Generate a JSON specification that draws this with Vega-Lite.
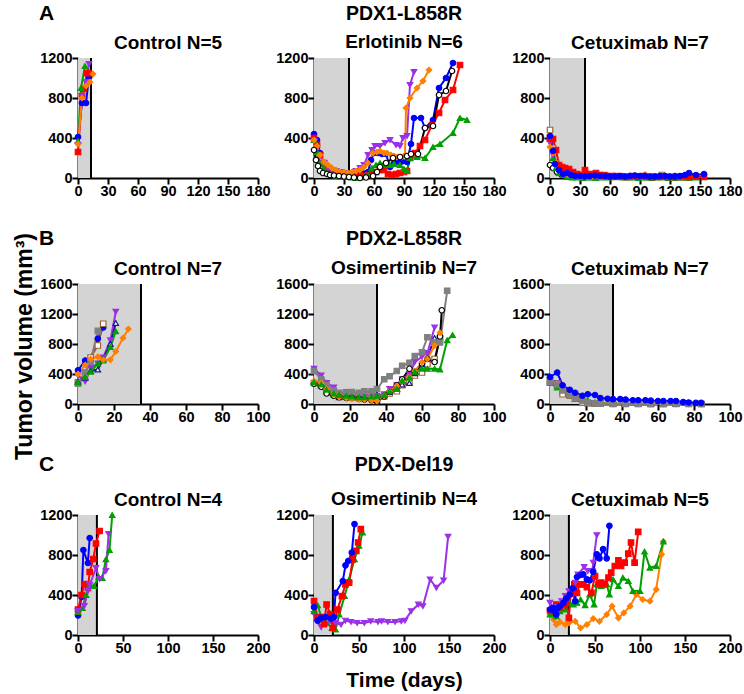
{
"$schema":"https://vega.github.io/schema/vega-lite/v6.json",
"padding":{"left":13,"top":2,"right":0,"bottom":0},
"title":{"text":"Tumor volume (mm³)","orient":"left","anchor":"middle","fontSize":23,"offset":2},
"spacing":29,
"resolve":{"scale":{"x":"independent","y":"independent"}},
"datasets":{
"A1":[
{"id":"blue","day":0,"vol":410},{"id":"blue","day":4,"vol":750},{"id":"blue","day":8,"vol":750},{"id":"blue","day":11,"vol":1010},
{"id":"red","day":0,"vol":260},{"id":"red","day":4,"vol":820},{"id":"red","day":6,"vol":890},{"id":"red","day":9,"vol":1050},{"id":"red","day":11,"vol":1050},
{"id":"green","day":0,"vol":370},{"id":"green","day":3,"vol":900},{"id":"green","day":7,"vol":1120},
{"id":"purple","day":0,"vol":330},{"id":"purple","day":4,"vol":820},{"id":"purple","day":8,"vol":960},{"id":"purple","day":11,"vol":1140},
{"id":"orange","day":0,"vol":340},{"id":"orange","day":4,"vol":800},{"id":"orange","day":8,"vol":920},{"id":"orange","day":12,"vol":960},{"id":"orange","day":15,"vol":1040}
],
"A2":[
{"id":"blue","day":0,"vol":440},{"id":"blue","day":3,"vol":380},{"id":"blue","day":6,"vol":250},{"id":"blue","day":10,"vol":150},{"id":"blue","day":14,"vol":90},{"id":"blue","day":18,"vol":80},{"id":"blue","day":22,"vol":70},{"id":"blue","day":26,"vol":50},{"id":"blue","day":30,"vol":50},{"id":"blue","day":34,"vol":40},{"id":"blue","day":38,"vol":35},{"id":"blue","day":42,"vol":30},{"id":"blue","day":46,"vol":40},{"id":"blue","day":50,"vol":45},{"id":"blue","day":54,"vol":60},{"id":"blue","day":57,"vol":180},{"id":"blue","day":60,"vol":250},{"id":"blue","day":64,"vol":250},{"id":"blue","day":68,"vol":240},{"id":"blue","day":72,"vol":240},{"id":"blue","day":76,"vol":110},{"id":"blue","day":80,"vol":150},{"id":"blue","day":84,"vol":170},{"id":"blue","day":88,"vol":165},{"id":"blue","day":93,"vol":160},{"id":"blue","day":97,"vol":340},{"id":"blue","day":100,"vol":600},{"id":"blue","day":107,"vol":600},{"id":"blue","day":111,"vol":500},{"id":"blue","day":119,"vol":580},{"id":"blue","day":125,"vol":900},{"id":"blue","day":132,"vol":1000},{"id":"blue","day":139,"vol":1150},
{"id":"red","day":0,"vol":400},{"id":"red","day":3,"vol":330},{"id":"red","day":6,"vol":230},{"id":"red","day":10,"vol":150},{"id":"red","day":14,"vol":100},{"id":"red","day":18,"vol":70},{"id":"red","day":22,"vol":50},{"id":"red","day":26,"vol":40},{"id":"red","day":30,"vol":30},{"id":"red","day":34,"vol":20},{"id":"red","day":38,"vol":15},{"id":"red","day":42,"vol":20},{"id":"red","day":46,"vol":25},{"id":"red","day":50,"vol":20},{"id":"red","day":54,"vol":30},{"id":"red","day":58,"vol":40},{"id":"red","day":62,"vol":60},{"id":"red","day":66,"vol":80},{"id":"red","day":70,"vol":80},{"id":"red","day":74,"vol":40},{"id":"red","day":78,"vol":30},{"id":"red","day":82,"vol":40},{"id":"red","day":86,"vol":50},{"id":"red","day":90,"vol":60},{"id":"red","day":93,"vol":70},{"id":"red","day":96,"vol":200},{"id":"red","day":101,"vol":250},{"id":"red","day":106,"vol":320},{"id":"red","day":111,"vol":380},{"id":"red","day":118,"vol":530},{"id":"red","day":125,"vol":650},{"id":"red","day":131,"vol":780},{"id":"red","day":139,"vol":880},{"id":"red","day":146,"vol":1130},
{"id":"green","day":0,"vol":380},{"id":"green","day":3,"vol":260},{"id":"green","day":6,"vol":150},{"id":"green","day":10,"vol":90},{"id":"green","day":14,"vol":50},{"id":"green","day":18,"vol":30},{"id":"green","day":22,"vol":20},{"id":"green","day":26,"vol":15},{"id":"green","day":30,"vol":10},{"id":"green","day":34,"vol":10},{"id":"green","day":38,"vol":5},{"id":"green","day":42,"vol":0},{"id":"green","day":46,"vol":5},{"id":"green","day":50,"vol":10},{"id":"green","day":54,"vol":30},{"id":"green","day":58,"vol":100},{"id":"green","day":62,"vol":130},{"id":"green","day":66,"vol":150},{"id":"green","day":70,"vol":140},{"id":"green","day":76,"vol":130},{"id":"green","day":80,"vol":140},{"id":"green","day":86,"vol":130},{"id":"green","day":90,"vol":90},{"id":"green","day":93,"vol":70},{"id":"green","day":96,"vol":200},{"id":"green","day":103,"vol":210},{"id":"green","day":111,"vol":200},{"id":"green","day":119,"vol":310},{"id":"green","day":126,"vol":340},{"id":"green","day":139,"vol":450},{"id":"green","day":146,"vol":600},{"id":"green","day":153,"vol":580},
{"id":"purple","day":0,"vol":370},{"id":"purple","day":3,"vol":300},{"id":"purple","day":6,"vol":220},{"id":"purple","day":10,"vol":150},{"id":"purple","day":14,"vol":100},{"id":"purple","day":18,"vol":80},{"id":"purple","day":22,"vol":70},{"id":"purple","day":26,"vol":60},{"id":"purple","day":30,"vol":50},{"id":"purple","day":34,"vol":50},{"id":"purple","day":38,"vol":50},{"id":"purple","day":42,"vol":70},{"id":"purple","day":46,"vol":100},{"id":"purple","day":50,"vol":130},{"id":"purple","day":54,"vol":230},{"id":"purple","day":58,"vol":280},{"id":"purple","day":61,"vol":320},{"id":"purple","day":66,"vol":320},{"id":"purple","day":71,"vol":350},{"id":"purple","day":76,"vol":380},{"id":"purple","day":82,"vol":330},{"id":"purple","day":86,"vol":320},{"id":"purple","day":89,"vol":400},{"id":"purple","day":93,"vol":420},{"id":"purple","day":96,"vol":930},{"id":"purple","day":100,"vol":1060},
{"id":"orange","day":0,"vol":380},{"id":"orange","day":3,"vol":320},{"id":"orange","day":6,"vol":230},{"id":"orange","day":10,"vol":160},{"id":"orange","day":14,"vol":130},{"id":"orange","day":18,"vol":100},{"id":"orange","day":22,"vol":80},{"id":"orange","day":26,"vol":60},{"id":"orange","day":30,"vol":60},{"id":"orange","day":34,"vol":50},{"id":"orange","day":38,"vol":60},{"id":"orange","day":42,"vol":70},{"id":"orange","day":46,"vol":80},{"id":"orange","day":50,"vol":110},{"id":"orange","day":54,"vol":150},{"id":"orange","day":59,"vol":250},{"id":"orange","day":63,"vol":260},{"id":"orange","day":66,"vol":270},{"id":"orange","day":70,"vol":250},{"id":"orange","day":73,"vol":250},{"id":"orange","day":77,"vol":230},{"id":"orange","day":80,"vol":220},{"id":"orange","day":83,"vol":210},{"id":"orange","day":88,"vol":210},{"id":"orange","day":91,"vol":230},{"id":"orange","day":92,"vol":700},{"id":"orange","day":96,"vol":800},{"id":"orange","day":103,"vol":900},{"id":"orange","day":109,"vol":970},{"id":"orange","day":115,"vol":1080},
{"id":"black","day":0,"vol":280},{"id":"black","day":2,"vol":180},{"id":"black","day":4,"vol":120},{"id":"black","day":6,"vol":70},{"id":"black","day":9,"vol":50},{"id":"black","day":13,"vol":40},{"id":"black","day":16,"vol":30},{"id":"black","day":20,"vol":25},{"id":"black","day":25,"vol":20},{"id":"black","day":30,"vol":15},{"id":"black","day":35,"vol":10},{"id":"black","day":40,"vol":5},{"id":"black","day":46,"vol":0},{"id":"black","day":52,"vol":5},{"id":"black","day":59,"vol":20},{"id":"black","day":63,"vol":60},{"id":"black","day":66,"vol":110},{"id":"black","day":72,"vol":150},{"id":"black","day":79,"vol":200},{"id":"black","day":86,"vol":210},{"id":"black","day":93,"vol":220},{"id":"black","day":97,"vol":240},{"id":"black","day":104,"vol":240},{"id":"black","day":111,"vol":500},{"id":"black","day":119,"vol":520},{"id":"black","day":125,"vol":830},{"id":"black","day":132,"vol":870},{"id":"black","day":138,"vol":1070}
],
"A3":[
{"id":"black","day":0,"vol":130},{"id":"black","day":3,"vol":100},{"id":"black","day":7,"vol":60},{"id":"black","day":11,"vol":40},{"id":"black","day":15,"vol":30},{"id":"black","day":20,"vol":30},{"id":"black","day":25,"vol":25},{"id":"black","day":30,"vol":20},{"id":"black","day":35,"vol":20},{"id":"black","day":42,"vol":10},{"id":"black","day":50,"vol":20},{"id":"black","day":57,"vol":15},{"id":"black","day":64,"vol":20},{"id":"black","day":72,"vol":20},{"id":"black","day":80,"vol":15},{"id":"black","day":88,"vol":15},{"id":"black","day":95,"vol":10},{"id":"black","day":102,"vol":10},{"id":"black","day":110,"vol":10},{"id":"black","day":118,"vol":10},{"id":"black","day":125,"vol":20},{"id":"black","day":132,"vol":10},{"id":"black","day":140,"vol":10},
{"id":"brown","day":0,"vol":480},{"id":"brown","day":3,"vol":300},{"id":"brown","day":6,"vol":150},{"id":"brown","day":10,"vol":70},{"id":"brown","day":14,"vol":40},{"id":"brown","day":20,"vol":20},{"id":"brown","day":26,"vol":15},{"id":"brown","day":33,"vol":10},{"id":"brown","day":40,"vol":10},{"id":"brown","day":47,"vol":15},{"id":"brown","day":54,"vol":30},{"id":"brown","day":60,"vol":15},{"id":"brown","day":68,"vol":10},{"id":"brown","day":75,"vol":10},{"id":"brown","day":82,"vol":10},{"id":"brown","day":90,"vol":15},{"id":"brown","day":96,"vol":10},{"id":"brown","day":104,"vol":15},{"id":"brown","day":112,"vol":30},{"id":"brown","day":118,"vol":10},{"id":"brown","day":125,"vol":10},{"id":"brown","day":132,"vol":5},
{"id":"green","day":0,"vol":390},{"id":"green","day":3,"vol":200},{"id":"green","day":6,"vol":100},{"id":"green","day":9,"vol":50},{"id":"green","day":13,"vol":30},{"id":"green","day":17,"vol":10},{"id":"green","day":22,"vol":5},{"id":"green","day":27,"vol":5},{"id":"green","day":33,"vol":0},{"id":"green","day":40,"vol":5},{"id":"green","day":46,"vol":0},{"id":"green","day":53,"vol":5},{"id":"green","day":60,"vol":5},{"id":"green","day":67,"vol":10},{"id":"green","day":74,"vol":5},{"id":"green","day":80,"vol":5},{"id":"green","day":88,"vol":0},{"id":"green","day":95,"vol":5},{"id":"green","day":102,"vol":0},{"id":"green","day":110,"vol":5},{"id":"green","day":118,"vol":0},{"id":"green","day":125,"vol":0},{"id":"green","day":132,"vol":5},{"id":"green","day":139,"vol":0},{"id":"green","day":146,"vol":5},
{"id":"purple","day":0,"vol":350},{"id":"purple","day":3,"vol":230},{"id":"purple","day":6,"vol":120},{"id":"purple","day":10,"vol":70},{"id":"purple","day":14,"vol":40},{"id":"purple","day":20,"vol":25},{"id":"purple","day":26,"vol":20},{"id":"purple","day":33,"vol":15},{"id":"purple","day":40,"vol":10},{"id":"purple","day":47,"vol":15},{"id":"purple","day":54,"vol":10},{"id":"purple","day":61,"vol":15},{"id":"purple","day":68,"vol":10},{"id":"purple","day":75,"vol":15},{"id":"purple","day":82,"vol":20},{"id":"purple","day":89,"vol":10},{"id":"purple","day":96,"vol":15},{"id":"purple","day":103,"vol":10},{"id":"purple","day":110,"vol":10},
{"id":"orange","day":0,"vol":310},{"id":"orange","day":3,"vol":250},{"id":"orange","day":6,"vol":150},{"id":"orange","day":10,"vol":80},{"id":"orange","day":14,"vol":40},{"id":"orange","day":18,"vol":30},{"id":"orange","day":24,"vol":20},{"id":"orange","day":30,"vol":15},{"id":"orange","day":36,"vol":10},{"id":"orange","day":42,"vol":15},{"id":"orange","day":50,"vol":10},{"id":"orange","day":57,"vol":20},{"id":"orange","day":64,"vol":10},{"id":"orange","day":72,"vol":15},{"id":"orange","day":80,"vol":10},{"id":"orange","day":88,"vol":20},{"id":"orange","day":95,"vol":35},{"id":"orange","day":102,"vol":15},{"id":"orange","day":110,"vol":10},{"id":"orange","day":118,"vol":15},{"id":"orange","day":125,"vol":10},{"id":"orange","day":132,"vol":5},{"id":"orange","day":140,"vol":10},
{"id":"red","day":0,"vol":400},{"id":"red","day":3,"vol":390},{"id":"red","day":6,"vol":280},{"id":"red","day":9,"vol":130},{"id":"red","day":12,"vol":110},{"id":"red","day":15,"vol":100},{"id":"red","day":19,"vol":90},{"id":"red","day":23,"vol":60},{"id":"red","day":27,"vol":40},{"id":"red","day":31,"vol":30},{"id":"red","day":35,"vol":80},{"id":"red","day":40,"vol":40},{"id":"red","day":46,"vol":50},{"id":"red","day":50,"vol":30},{"id":"red","day":55,"vol":25},{"id":"red","day":60,"vol":20},{"id":"red","day":66,"vol":20},{"id":"red","day":71,"vol":15},{"id":"red","day":77,"vol":10},{"id":"red","day":82,"vol":20},{"id":"red","day":88,"vol":15},{"id":"red","day":94,"vol":20},{"id":"red","day":100,"vol":10},{"id":"red","day":106,"vol":10},{"id":"red","day":112,"vol":15},{"id":"red","day":118,"vol":10},{"id":"red","day":125,"vol":10},{"id":"red","day":132,"vol":15},{"id":"red","day":139,"vol":10},{"id":"red","day":146,"vol":15},{"id":"red","day":154,"vol":10},
{"id":"blue","day":0,"vol":420},{"id":"blue","day":3,"vol":270},{"id":"blue","day":5,"vol":140},{"id":"blue","day":9,"vol":80},{"id":"blue","day":13,"vol":40},{"id":"blue","day":17,"vol":50},{"id":"blue","day":21,"vol":30},{"id":"blue","day":25,"vol":20},{"id":"blue","day":30,"vol":20},{"id":"blue","day":35,"vol":15},{"id":"blue","day":40,"vol":20},{"id":"blue","day":45,"vol":25},{"id":"blue","day":50,"vol":20},{"id":"blue","day":55,"vol":20},{"id":"blue","day":60,"vol":15},{"id":"blue","day":65,"vol":15},{"id":"blue","day":70,"vol":20},{"id":"blue","day":75,"vol":15},{"id":"blue","day":80,"vol":20},{"id":"blue","day":85,"vol":25},{"id":"blue","day":90,"vol":20},{"id":"blue","day":95,"vol":20},{"id":"blue","day":100,"vol":15},{"id":"blue","day":105,"vol":15},{"id":"blue","day":110,"vol":20},{"id":"blue","day":115,"vol":20},{"id":"blue","day":120,"vol":15},{"id":"blue","day":125,"vol":15},{"id":"blue","day":130,"vol":20},{"id":"blue","day":135,"vol":30},{"id":"blue","day":139,"vol":50},{"id":"blue","day":146,"vol":30},{"id":"blue","day":154,"vol":40}
],
"B1":[
{"id":"blue","day":0,"vol":450},{"id":"blue","day":4,"vol":580},{"id":"blue","day":7,"vol":600},{"id":"blue","day":11,"vol":870},{"id":"blue","day":14,"vol":1020},
{"id":"brown","day":0,"vol":290},{"id":"brown","day":4,"vol":400},{"id":"brown","day":7,"vol":620},{"id":"brown","day":11,"vol":780},{"id":"brown","day":14,"vol":1070},
{"id":"gray","day":0,"vol":270},{"id":"gray","day":4,"vol":420},{"id":"gray","day":7,"vol":560},{"id":"gray","day":11,"vol":975},
{"id":"purple","day":0,"vol":380},{"id":"purple","day":4,"vol":300},{"id":"purple","day":7,"vol":480},{"id":"purple","day":11,"vol":540},{"id":"purple","day":14,"vol":620},{"id":"purple","day":18,"vol":850},{"id":"purple","day":21,"vol":1230},
{"id":"navy","day":0,"vol":300},{"id":"navy","day":4,"vol":350},{"id":"navy","day":7,"vol":440},{"id":"navy","day":11,"vol":460},{"id":"navy","day":14,"vol":600},{"id":"navy","day":18,"vol":800},{"id":"navy","day":21,"vol":1080},
{"id":"green","day":0,"vol":290},{"id":"green","day":4,"vol":360},{"id":"green","day":7,"vol":430},{"id":"green","day":11,"vol":540},{"id":"green","day":14,"vol":580},{"id":"green","day":18,"vol":760},{"id":"green","day":21,"vol":970},
{"id":"orange","day":0,"vol":400},{"id":"orange","day":4,"vol":520},{"id":"orange","day":7,"vol":600},{"id":"orange","day":11,"vol":630},{"id":"orange","day":14,"vol":590},{"id":"orange","day":18,"vol":590},{"id":"orange","day":21,"vol":700},{"id":"orange","day":25,"vol":880},{"id":"orange","day":28,"vol":1000}
],
"B2":[
{"id":"brown","day":0,"vol":280},{"id":"brown","day":4,"vol":260},{"id":"brown","day":7,"vol":200},{"id":"brown","day":11,"vol":150},{"id":"brown","day":14,"vol":100},{"id":"brown","day":18,"vol":110},{"id":"brown","day":21,"vol":90},{"id":"brown","day":25,"vol":80},{"id":"brown","day":28,"vol":90},{"id":"brown","day":32,"vol":80},{"id":"brown","day":35,"vol":80},{"id":"brown","day":39,"vol":100},{"id":"brown","day":42,"vol":140},{"id":"brown","day":46,"vol":170},{"id":"brown","day":49,"vol":250},{"id":"brown","day":53,"vol":300},{"id":"brown","day":56,"vol":380},{"id":"brown","day":60,"vol":420},{"id":"brown","day":63,"vol":530},{"id":"brown","day":67,"vol":600},{"id":"brown","day":70,"vol":880},
{"id":"navy","day":0,"vol":300},{"id":"navy","day":4,"vol":250},{"id":"navy","day":7,"vol":180},{"id":"navy","day":11,"vol":130},{"id":"navy","day":14,"vol":90},{"id":"navy","day":18,"vol":100},{"id":"navy","day":21,"vol":110},{"id":"navy","day":25,"vol":90},{"id":"navy","day":28,"vol":90},{"id":"navy","day":32,"vol":80},{"id":"navy","day":35,"vol":90},{"id":"navy","day":39,"vol":120},{"id":"navy","day":42,"vol":160},{"id":"navy","day":46,"vol":200},{"id":"navy","day":49,"vol":260},{"id":"navy","day":53,"vol":280},{"id":"navy","day":56,"vol":410},{"id":"navy","day":60,"vol":530},{"id":"navy","day":63,"vol":620},{"id":"navy","day":67,"vol":880},
{"id":"purple","day":0,"vol":470},{"id":"purple","day":4,"vol":380},{"id":"purple","day":7,"vol":280},{"id":"purple","day":11,"vol":220},{"id":"purple","day":14,"vol":130},{"id":"purple","day":18,"vol":160},{"id":"purple","day":21,"vol":130},{"id":"purple","day":25,"vol":120},{"id":"purple","day":28,"vol":100},{"id":"purple","day":32,"vol":120},{"id":"purple","day":35,"vol":110},{"id":"purple","day":39,"vol":130},{"id":"purple","day":42,"vol":200},{"id":"purple","day":46,"vol":250},{"id":"purple","day":49,"vol":330},{"id":"purple","day":53,"vol":400},{"id":"purple","day":56,"vol":560},{"id":"purple","day":60,"vol":630},{"id":"purple","day":63,"vol":680},{"id":"purple","day":67,"vol":1020},
{"id":"gray","day":0,"vol":440},{"id":"gray","day":4,"vol":330},{"id":"gray","day":7,"vol":250},{"id":"gray","day":11,"vol":180},{"id":"gray","day":14,"vol":150},{"id":"gray","day":18,"vol":150},{"id":"gray","day":21,"vol":160},{"id":"gray","day":25,"vol":150},{"id":"gray","day":28,"vol":170},{"id":"gray","day":32,"vol":170},{"id":"gray","day":35,"vol":200},{"id":"gray","day":39,"vol":330},{"id":"gray","day":42,"vol":370},{"id":"gray","day":46,"vol":440},{"id":"gray","day":49,"vol":510},{"id":"gray","day":53,"vol":550},{"id":"gray","day":56,"vol":640},{"id":"gray","day":60,"vol":690},{"id":"gray","day":63,"vol":890},{"id":"gray","day":67,"vol":820},{"id":"gray","day":70,"vol":820},{"id":"gray","day":74,"vol":1510},
{"id":"black","day":0,"vol":270},{"id":"black","day":4,"vol":230},{"id":"black","day":7,"vol":140},{"id":"black","day":11,"vol":110},{"id":"black","day":14,"vol":90},{"id":"black","day":18,"vol":80},{"id":"black","day":21,"vol":80},{"id":"black","day":25,"vol":70},{"id":"black","day":28,"vol":60},{"id":"black","day":32,"vol":50},{"id":"black","day":35,"vol":30},{"id":"black","day":39,"vol":100},{"id":"black","day":42,"vol":160},{"id":"black","day":46,"vol":250},{"id":"black","day":49,"vol":330},{"id":"black","day":53,"vol":470},{"id":"black","day":56,"vol":430},{"id":"black","day":60,"vol":540},{"id":"black","day":63,"vol":600},{"id":"black","day":67,"vol":560},{"id":"black","day":70,"vol":900},{"id":"black","day":71,"vol":1250},
{"id":"orange","day":0,"vol":300},{"id":"orange","day":4,"vol":280},{"id":"orange","day":7,"vol":200},{"id":"orange","day":11,"vol":130},{"id":"orange","day":14,"vol":90},{"id":"orange","day":18,"vol":80},{"id":"orange","day":21,"vol":70},{"id":"orange","day":25,"vol":60},{"id":"orange","day":28,"vol":60},{"id":"orange","day":32,"vol":50},{"id":"orange","day":35,"vol":40},{"id":"orange","day":39,"vol":110},{"id":"orange","day":42,"vol":170},{"id":"orange","day":46,"vol":240},{"id":"orange","day":49,"vol":300},{"id":"orange","day":53,"vol":360},{"id":"orange","day":56,"vol":440},{"id":"orange","day":60,"vol":560},{"id":"orange","day":63,"vol":600},{"id":"orange","day":67,"vol":780},{"id":"orange","day":70,"vol":950},
{"id":"green","day":0,"vol":290},{"id":"green","day":4,"vol":260},{"id":"green","day":7,"vol":190},{"id":"green","day":11,"vol":140},{"id":"green","day":14,"vol":120},{"id":"green","day":18,"vol":110},{"id":"green","day":21,"vol":100},{"id":"green","day":25,"vol":90},{"id":"green","day":28,"vol":90},{"id":"green","day":32,"vol":100},{"id":"green","day":35,"vol":110},{"id":"green","day":39,"vol":120},{"id":"green","day":42,"vol":170},{"id":"green","day":46,"vol":200},{"id":"green","day":49,"vol":310},{"id":"green","day":53,"vol":350},{"id":"green","day":56,"vol":430},{"id":"green","day":60,"vol":470},{"id":"green","day":63,"vol":470},{"id":"green","day":67,"vol":470},{"id":"green","day":70,"vol":460},{"id":"green","day":74,"vol":850},{"id":"green","day":77,"vol":920}
],
"B3":[
{"id":"navy","day":0,"vol":300},{"id":"navy","day":4,"vol":250},{"id":"navy","day":7,"vol":180},{"id":"navy","day":11,"vol":120},{"id":"navy","day":14,"vol":70},{"id":"navy","day":18,"vol":30},{"id":"navy","day":21,"vol":10},{"id":"navy","day":25,"vol":5},{"id":"navy","day":28,"vol":0},{"id":"navy","day":35,"vol":0},{"id":"navy","day":42,"vol":0},{"id":"navy","day":49,"vol":0},{"id":"navy","day":56,"vol":0},{"id":"navy","day":63,"vol":0},{"id":"navy","day":70,"vol":0},{"id":"navy","day":77,"vol":0},{"id":"navy","day":84,"vol":0},
{"id":"purple","day":0,"vol":320},{"id":"purple","day":4,"vol":280},{"id":"purple","day":7,"vol":200},{"id":"purple","day":11,"vol":150},{"id":"purple","day":14,"vol":90},{"id":"purple","day":18,"vol":40},{"id":"purple","day":21,"vol":15},{"id":"purple","day":25,"vol":10},{"id":"purple","day":28,"vol":5},{"id":"purple","day":35,"vol":0},{"id":"purple","day":42,"vol":0},{"id":"purple","day":49,"vol":0},{"id":"purple","day":56,"vol":5},{"id":"purple","day":63,"vol":0},{"id":"purple","day":70,"vol":0},{"id":"purple","day":77,"vol":0},{"id":"purple","day":84,"vol":0},
{"id":"orange","day":0,"vol":300},{"id":"orange","day":4,"vol":270},{"id":"orange","day":7,"vol":230},{"id":"orange","day":11,"vol":180},{"id":"orange","day":14,"vol":120},{"id":"orange","day":18,"vol":60},{"id":"orange","day":21,"vol":30},{"id":"orange","day":25,"vol":15},{"id":"orange","day":28,"vol":10},{"id":"orange","day":35,"vol":5},{"id":"orange","day":42,"vol":5},{"id":"orange","day":49,"vol":5},{"id":"orange","day":56,"vol":5},{"id":"orange","day":63,"vol":5},{"id":"orange","day":70,"vol":5},{"id":"orange","day":77,"vol":5},{"id":"orange","day":84,"vol":5},
{"id":"green","day":0,"vol":280},{"id":"green","day":4,"vol":220},{"id":"green","day":7,"vol":190},{"id":"green","day":11,"vol":150},{"id":"green","day":14,"vol":100},{"id":"green","day":18,"vol":70},{"id":"green","day":21,"vol":50},{"id":"green","day":25,"vol":20},{"id":"green","day":28,"vol":10},{"id":"green","day":35,"vol":5},{"id":"green","day":42,"vol":5},{"id":"green","day":49,"vol":0},{"id":"green","day":56,"vol":0},{"id":"green","day":63,"vol":5},{"id":"green","day":70,"vol":0},{"id":"green","day":77,"vol":0},{"id":"green","day":84,"vol":0},
{"id":"brown","day":0,"vol":310},{"id":"brown","day":4,"vol":270},{"id":"brown","day":7,"vol":130},{"id":"brown","day":11,"vol":110},{"id":"brown","day":14,"vol":70},{"id":"brown","day":18,"vol":20},{"id":"brown","day":21,"vol":10},{"id":"brown","day":25,"vol":5},{"id":"brown","day":28,"vol":5},{"id":"brown","day":35,"vol":0},{"id":"brown","day":42,"vol":5},{"id":"brown","day":49,"vol":0},{"id":"brown","day":56,"vol":0},{"id":"brown","day":63,"vol":0},{"id":"brown","day":70,"vol":5},{"id":"brown","day":77,"vol":0},{"id":"brown","day":84,"vol":0},
{"id":"gray","day":0,"vol":290},{"id":"gray","day":4,"vol":260},{"id":"gray","day":7,"vol":180},{"id":"gray","day":11,"vol":120},{"id":"gray","day":14,"vol":80},{"id":"gray","day":18,"vol":40},{"id":"gray","day":21,"vol":20},{"id":"gray","day":25,"vol":10},{"id":"gray","day":28,"vol":5},{"id":"gray","day":35,"vol":5},{"id":"gray","day":42,"vol":0},{"id":"gray","day":49,"vol":5},{"id":"gray","day":56,"vol":0},{"id":"gray","day":63,"vol":0},{"id":"gray","day":70,"vol":0},{"id":"gray","day":77,"vol":5},{"id":"gray","day":84,"vol":0},
{"id":"blue","day":0,"vol":360},{"id":"blue","day":4,"vol":420},{"id":"blue","day":7,"vol":250},{"id":"blue","day":11,"vol":190},{"id":"blue","day":14,"vol":150},{"id":"blue","day":18,"vol":110},{"id":"blue","day":21,"vol":130},{"id":"blue","day":25,"vol":120},{"id":"blue","day":28,"vol":80},{"id":"blue","day":32,"vol":70},{"id":"blue","day":35,"vol":65},{"id":"blue","day":39,"vol":65},{"id":"blue","day":42,"vol":60},{"id":"blue","day":46,"vol":50},{"id":"blue","day":49,"vol":50},{"id":"blue","day":53,"vol":50},{"id":"blue","day":56,"vol":45},{"id":"blue","day":60,"vol":40},{"id":"blue","day":63,"vol":40},{"id":"blue","day":67,"vol":40},{"id":"blue","day":70,"vol":40},{"id":"blue","day":74,"vol":25},{"id":"blue","day":77,"vol":20},{"id":"blue","day":81,"vol":15},{"id":"blue","day":84,"vol":15}
],
"C1":[
{"id":"blue","day":0,"vol":195},{"id":"blue","day":4,"vol":380},{"id":"blue","day":6,"vol":850},{"id":"blue","day":11,"vol":720},{"id":"blue","day":13,"vol":970},
{"id":"red","day":0,"vol":255},{"id":"red","day":4,"vol":400},{"id":"red","day":7,"vol":510},{"id":"red","day":11,"vol":470},{"id":"red","day":13,"vol":630},{"id":"red","day":17,"vol":760},{"id":"red","day":20,"vol":915},{"id":"red","day":24,"vol":1040},
{"id":"green","day":0,"vol":230},{"id":"green","day":5,"vol":270},{"id":"green","day":9,"vol":400},{"id":"green","day":13,"vol":500},{"id":"green","day":18,"vol":490},{"id":"green","day":23,"vol":580},{"id":"green","day":27,"vol":570},{"id":"green","day":31,"vol":757},{"id":"green","day":35,"vol":850},{"id":"green","day":38,"vol":1200},
{"id":"purple","day":0,"vol":240},{"id":"purple","day":7,"vol":290},{"id":"purple","day":11,"vol":440},{"id":"purple","day":13,"vol":500},{"id":"purple","day":20,"vol":670},{"id":"purple","day":24,"vol":560},{"id":"purple","day":31,"vol":640},{"id":"purple","day":34,"vol":1010}
],
"C2":[
{"id":"purple","day":0,"vol":211},{"id":"purple","day":4,"vol":137},{"id":"purple","day":8,"vol":77},{"id":"purple","day":13,"vol":104},{"id":"purple","day":18,"vol":137},{"id":"purple","day":24,"vol":120},{"id":"purple","day":30,"vol":104},{"id":"purple","day":35,"vol":144},{"id":"purple","day":41,"vol":131},{"id":"purple","day":48,"vol":120},{"id":"purple","day":56,"vol":120},{"id":"purple","day":63,"vol":137},{"id":"purple","day":71,"vol":131},{"id":"purple","day":75,"vol":137},{"id":"purple","day":82,"vol":131},{"id":"purple","day":90,"vol":131},{"id":"purple","day":97,"vol":137},{"id":"purple","day":101,"vol":144},{"id":"purple","day":108,"vol":238},{"id":"purple","day":116,"vol":305},{"id":"purple","day":121,"vol":288},{"id":"purple","day":129,"vol":556},{"id":"purple","day":136,"vol":472},{"id":"purple","day":144,"vol":546},{"id":"purple","day":149,"vol":982},
{"id":"green","day":0,"vol":238},{"id":"green","day":4,"vol":298},{"id":"green","day":9,"vol":154},{"id":"green","day":14,"vol":120},{"id":"green","day":20,"vol":70},{"id":"green","day":24,"vol":54},{"id":"green","day":28,"vol":204},{"id":"green","day":34,"vol":389},{"id":"green","day":39,"vol":556},{"id":"green","day":45,"vol":757},{"id":"green","day":50,"vol":891},{"id":"green","day":54,"vol":1025},
{"id":"red","day":0,"vol":338},{"id":"red","day":4,"vol":171},{"id":"red","day":8,"vol":180},{"id":"red","day":11,"vol":111},{"id":"red","day":14,"vol":305},{"id":"red","day":18,"vol":210},{"id":"red","day":21,"vol":70},{"id":"red","day":26,"vol":254},{"id":"red","day":31,"vol":389},{"id":"red","day":35,"vol":506},{"id":"red","day":39,"vol":523},{"id":"red","day":43,"vol":757},{"id":"red","day":47,"vol":841},{"id":"red","day":49,"vol":925},{"id":"red","day":52,"vol":1058},
{"id":"blue","day":0,"vol":278},{"id":"blue","day":4,"vol":144},{"id":"blue","day":8,"vol":171},{"id":"blue","day":13,"vol":178},{"id":"blue","day":19,"vol":164},{"id":"blue","day":22,"vol":178},{"id":"blue","day":24,"vol":422},{"id":"blue","day":32,"vol":540},{"id":"blue","day":35,"vol":697},{"id":"blue","day":38,"vol":740},{"id":"blue","day":42,"vol":824},{"id":"blue","day":45,"vol":1109}
],
"C3":[
{"id":"orange","day":0,"vol":204},{"id":"orange","day":4,"vol":154},{"id":"orange","day":7,"vol":104},{"id":"orange","day":11,"vol":131},{"id":"orange","day":17,"vol":104},{"id":"orange","day":21,"vol":121},{"id":"orange","day":28,"vol":137},{"id":"orange","day":34,"vol":70},{"id":"orange","day":41,"vol":104},{"id":"orange","day":48,"vol":164},{"id":"orange","day":55,"vol":137},{"id":"orange","day":63,"vol":204},{"id":"orange","day":69,"vol":288},{"id":"orange","day":76,"vol":171},{"id":"orange","day":82,"vol":221},{"id":"orange","day":89,"vol":288},{"id":"orange","day":96,"vol":405},{"id":"orange","day":103,"vol":355},{"id":"orange","day":111,"vol":338},{"id":"orange","day":118,"vol":456},{"id":"orange","day":124,"vol":807},{"id":"orange","day":126,"vol":935},
{"id":"green","day":0,"vol":204},{"id":"green","day":4,"vol":211},{"id":"green","day":7,"vol":188},{"id":"green","day":11,"vol":238},{"id":"green","day":17,"vol":255},{"id":"green","day":22,"vol":322},{"id":"green","day":26,"vol":305},{"id":"green","day":30,"vol":322},{"id":"green","day":34,"vol":355},{"id":"green","day":39,"vol":298},{"id":"green","day":44,"vol":405},{"id":"green","day":49,"vol":305},{"id":"green","day":52,"vol":506},{"id":"green","day":57,"vol":489},{"id":"green","day":63,"vol":506},{"id":"green","day":66,"vol":405},{"id":"green","day":70,"vol":556},{"id":"green","day":76,"vol":489},{"id":"green","day":81,"vol":573},{"id":"green","day":87,"vol":539},{"id":"green","day":92,"vol":439},{"id":"green","day":100,"vol":439},{"id":"green","day":105,"vol":834},{"id":"green","day":111,"vol":673},{"id":"green","day":118,"vol":690},{"id":"green","day":126,"vol":935},
{"id":"red","day":0,"vol":245},{"id":"red","day":4,"vol":238},{"id":"red","day":7,"vol":305},{"id":"red","day":11,"vol":278},{"id":"red","day":15,"vol":298},{"id":"red","day":18,"vol":322},{"id":"red","day":21,"vol":171},{"id":"red","day":23,"vol":412},{"id":"red","day":27,"vol":506},{"id":"red","day":30,"vol":422},{"id":"red","day":33,"vol":506},{"id":"red","day":37,"vol":506},{"id":"red","day":41,"vol":479},{"id":"red","day":46,"vol":422},{"id":"red","day":50,"vol":590},{"id":"red","day":54,"vol":506},{"id":"red","day":57,"vol":523},{"id":"red","day":61,"vol":506},{"id":"red","day":65,"vol":573},{"id":"red","day":68,"vol":623},{"id":"red","day":72,"vol":690},{"id":"red","day":76,"vol":747},{"id":"red","day":79,"vol":690},{"id":"red","day":83,"vol":724},{"id":"red","day":87,"vol":814},{"id":"red","day":90,"vol":925},{"id":"red","day":94,"vol":724},{"id":"red","day":98,"vol":1032},
{"id":"purple","day":0,"vol":322},{"id":"purple","day":4,"vol":238},{"id":"purple","day":8,"vol":280},{"id":"purple","day":13,"vol":338},{"id":"purple","day":17,"vol":390},{"id":"purple","day":21,"vol":439},{"id":"purple","day":28,"vol":523},{"id":"purple","day":31,"vol":606},{"id":"purple","day":38,"vol":680},{"id":"purple","day":42,"vol":640},{"id":"purple","day":47,"vol":640},{"id":"purple","day":48,"vol":724},{"id":"purple","day":52,"vol":998},
{"id":"blue","day":0,"vol":255},{"id":"blue","day":3,"vol":271},{"id":"blue","day":5,"vol":238},{"id":"blue","day":7,"vol":204},{"id":"blue","day":9,"vol":271},{"id":"blue","day":11,"vol":288},{"id":"blue","day":15,"vol":322},{"id":"blue","day":18,"vol":365},{"id":"blue","day":22,"vol":405},{"id":"blue","day":25,"vol":466},{"id":"blue","day":28,"vol":338},{"id":"blue","day":30,"vol":580},{"id":"blue","day":34,"vol":600},{"id":"blue","day":37,"vol":606},{"id":"blue","day":41,"vol":556},{"id":"blue","day":44,"vol":546},{"id":"blue","day":48,"vol":633},{"id":"blue","day":52,"vol":807},{"id":"blue","day":55,"vol":767},{"id":"blue","day":59,"vol":858},{"id":"blue","day":63,"vol":767},{"id":"blue","day":66,"vol":1092}
]
},
"vconcat":[
{"title":{"text":"A","anchor":"start","frame":"group","dx":-39,"dy":20,"fontSize":21,"offset":0},
 "bounds":"flush","spacing":56,"resolve":{"scale":{"x":"independent","y":"independent"}},
 "hconcat":[
{"width":180,"height":120,"title":{"text":"Control N=5"},
"layer":[
{"data":{"values":[{"start":0,"end":13}]},"mark":{"type":"rect","color":"#d4d4d4"},"encoding":{"x":{"field":"start","type":"quantitative","scale":{"domain":[0,180],"nice":false},"axis":{"values":[0,30,60,90,120,150,180],"tickCount":20,"title":null,"labelOverlap":false,"format":"d"}},"x2":{"field":"end"},"y":{"datum":0,"type":"quantitative","scale":{"domain":[0,1200],"nice":false},"axis":{"values":[0,400,800,1200],"tickCount":20,"title":null,"labelOverlap":false,"format":"d"}},"y2":{"datum":1200}}},
{"data":{"values":[{"start":0,"end":13}]},"mark":{"type":"rule","color":"black","strokeWidth":2},"encoding":{"x":{"field":"end","type":"quantitative"},"y":{"datum":0,"type":"quantitative"},"y2":{"datum":1200}}},
{"data":{"name":"A1"},"mark":{"type":"line","strokeWidth":2},"encoding":{"x":{"field":"day","type":"quantitative"},"y":{"field":"vol","type":"quantitative"},"color":{"field":"id","type":"nominal","scale":{"domain":["blue","red","green","purple","orange","black","brown","gray","navy"],"range":["#0000ff","#ff0000","#00a000","#9b30e8","#ff8000","#000000","#996633","#808080","#1a1a8c"]},"legend":null}}},
{"data":{"name":"A1"},"mark":{"type":"point","filled":true,"size":30,"strokeWidth":1.2,"opacity":1},"encoding":{"x":{"field":"day","type":"quantitative"},"y":{"field":"vol","type":"quantitative"},"shape":{"field":"id","type":"nominal","scale":{"domain":["blue","red","green","purple","orange","black","brown","gray","navy"],"range":["circle","square","triangle-up","triangle-down","diamond","circle","square","square","triangle-up"]},"legend":null},"fill":{"field":"id","type":"nominal","scale":{"domain":["blue","red","green","purple","orange","black","brown","gray","navy"],"range":["#0000ff","#ff0000","#00a000","#9b30e8","#ff8000","#ffffff","#ffffff","#808080","#ffffff"]},"legend":null},"stroke":{"field":"id","type":"nominal","scale":{"domain":["blue","red","green","purple","orange","black","brown","gray","navy"],"range":["#0000ff","#ff0000","#00a000","#9b30e8","#ff8000","#000000","#996633","#808080","#1a1a8c"]},"legend":null}}}
]},
{"width":180,"height":120,"title":{"text":"PDX1-L858R","subtitle":"Erlotinib N=6","fontSize":19.5,"subtitlePadding":9},
"layer":[
{"data":{"values":[{"start":0,"end":35}]},"mark":{"type":"rect","color":"#d4d4d4"},"encoding":{"x":{"field":"start","type":"quantitative","scale":{"domain":[0,180],"nice":false},"axis":{"values":[0,30,60,90,120,150,180],"tickCount":20,"title":null,"labelOverlap":false,"format":"d"}},"x2":{"field":"end"},"y":{"datum":0,"type":"quantitative","scale":{"domain":[0,1200],"nice":false},"axis":{"values":[0,400,800,1200],"tickCount":20,"title":null,"labelOverlap":false,"format":"d"}},"y2":{"datum":1200}}},
{"data":{"values":[{"start":0,"end":35}]},"mark":{"type":"rule","color":"black","strokeWidth":2},"encoding":{"x":{"field":"end","type":"quantitative"},"y":{"datum":0,"type":"quantitative"},"y2":{"datum":1200}}},
{"data":{"name":"A2"},"mark":{"type":"line","strokeWidth":2},"encoding":{"x":{"field":"day","type":"quantitative"},"y":{"field":"vol","type":"quantitative"},"color":{"field":"id","type":"nominal","scale":{"domain":["blue","red","green","purple","orange","black","brown","gray","navy"],"range":["#0000ff","#ff0000","#00a000","#9b30e8","#ff8000","#000000","#996633","#808080","#1a1a8c"]},"legend":null}}},
{"data":{"name":"A2"},"mark":{"type":"point","filled":true,"size":30,"strokeWidth":1.2,"opacity":1},"encoding":{"x":{"field":"day","type":"quantitative"},"y":{"field":"vol","type":"quantitative"},"shape":{"field":"id","type":"nominal","scale":{"domain":["blue","red","green","purple","orange","black","brown","gray","navy"],"range":["circle","square","triangle-up","triangle-down","diamond","circle","square","square","triangle-up"]},"legend":null},"fill":{"field":"id","type":"nominal","scale":{"domain":["blue","red","green","purple","orange","black","brown","gray","navy"],"range":["#0000ff","#ff0000","#00a000","#9b30e8","#ff8000","#ffffff","#ffffff","#808080","#ffffff"]},"legend":null},"stroke":{"field":"id","type":"nominal","scale":{"domain":["blue","red","green","purple","orange","black","brown","gray","navy"],"range":["#0000ff","#ff0000","#00a000","#9b30e8","#ff8000","#000000","#996633","#808080","#1a1a8c"]},"legend":null}}}
]},
{"width":180,"height":120,"title":{"text":"Cetuximab N=7"},
"layer":[
{"data":{"values":[{"start":0,"end":35}]},"mark":{"type":"rect","color":"#d4d4d4"},"encoding":{"x":{"field":"start","type":"quantitative","scale":{"domain":[0,180],"nice":false},"axis":{"values":[0,30,60,90,120,150,180],"tickCount":20,"title":null,"labelOverlap":false,"format":"d"}},"x2":{"field":"end"},"y":{"datum":0,"type":"quantitative","scale":{"domain":[0,1200],"nice":false},"axis":{"values":[0,400,800,1200],"tickCount":20,"title":null,"labelOverlap":false,"format":"d"}},"y2":{"datum":1200}}},
{"data":{"values":[{"start":0,"end":35}]},"mark":{"type":"rule","color":"black","strokeWidth":2},"encoding":{"x":{"field":"end","type":"quantitative"},"y":{"datum":0,"type":"quantitative"},"y2":{"datum":1200}}},
{"data":{"name":"A3"},"mark":{"type":"line","strokeWidth":2},"encoding":{"x":{"field":"day","type":"quantitative"},"y":{"field":"vol","type":"quantitative"},"color":{"field":"id","type":"nominal","scale":{"domain":["blue","red","green","purple","orange","black","brown","gray","navy"],"range":["#0000ff","#ff0000","#00a000","#9b30e8","#ff8000","#000000","#996633","#808080","#1a1a8c"]},"legend":null}}},
{"data":{"name":"A3"},"mark":{"type":"point","filled":true,"size":30,"strokeWidth":1.2,"opacity":1},"encoding":{"x":{"field":"day","type":"quantitative"},"y":{"field":"vol","type":"quantitative"},"shape":{"field":"id","type":"nominal","scale":{"domain":["blue","red","green","purple","orange","black","brown","gray","navy"],"range":["circle","square","triangle-up","triangle-down","diamond","circle","square","square","triangle-up"]},"legend":null},"fill":{"field":"id","type":"nominal","scale":{"domain":["blue","red","green","purple","orange","black","brown","gray","navy"],"range":["#0000ff","#ff0000","#00a000","#9b30e8","#ff8000","#ffffff","#ffffff","#808080","#ffffff"]},"legend":null},"stroke":{"field":"id","type":"nominal","scale":{"domain":["blue","red","green","purple","orange","black","brown","gray","navy"],"range":["#0000ff","#ff0000","#00a000","#9b30e8","#ff8000","#000000","#996633","#808080","#1a1a8c"]},"legend":null}}}
]}
]},
{"title":{"text":"B","anchor":"start","frame":"group","dx":-39,"dy":20,"fontSize":21,"offset":0},
 "bounds":"flush","spacing":56,"resolve":{"scale":{"x":"independent","y":"independent"}},
 "hconcat":[
{"width":180,"height":120,"title":{"text":"Control N=7"},
"layer":[
{"data":{"values":[{"start":0,"end":35}]},"mark":{"type":"rect","color":"#d4d4d4"},"encoding":{"x":{"field":"start","type":"quantitative","scale":{"domain":[0,100],"nice":false},"axis":{"values":[0,20,40,60,80,100],"tickCount":20,"title":null,"labelOverlap":false,"format":"d"}},"x2":{"field":"end"},"y":{"datum":0,"type":"quantitative","scale":{"domain":[0,1600],"nice":false},"axis":{"values":[0,400,800,1200,1600],"tickCount":20,"title":null,"labelOverlap":false,"format":"d"}},"y2":{"datum":1600}}},
{"data":{"values":[{"start":0,"end":35}]},"mark":{"type":"rule","color":"black","strokeWidth":2},"encoding":{"x":{"field":"end","type":"quantitative"},"y":{"datum":0,"type":"quantitative"},"y2":{"datum":1600}}},
{"data":{"name":"B1"},"mark":{"type":"line","strokeWidth":2},"encoding":{"x":{"field":"day","type":"quantitative"},"y":{"field":"vol","type":"quantitative"},"color":{"field":"id","type":"nominal","scale":{"domain":["blue","red","green","purple","orange","black","brown","gray","navy"],"range":["#0000ff","#ff0000","#00a000","#9b30e8","#ff8000","#000000","#996633","#808080","#1a1a8c"]},"legend":null}}},
{"data":{"name":"B1"},"mark":{"type":"point","filled":true,"size":30,"strokeWidth":1.2,"opacity":1},"encoding":{"x":{"field":"day","type":"quantitative"},"y":{"field":"vol","type":"quantitative"},"shape":{"field":"id","type":"nominal","scale":{"domain":["blue","red","green","purple","orange","black","brown","gray","navy"],"range":["circle","square","triangle-up","triangle-down","diamond","circle","square","square","triangle-up"]},"legend":null},"fill":{"field":"id","type":"nominal","scale":{"domain":["blue","red","green","purple","orange","black","brown","gray","navy"],"range":["#0000ff","#ff0000","#00a000","#9b30e8","#ff8000","#ffffff","#ffffff","#808080","#ffffff"]},"legend":null},"stroke":{"field":"id","type":"nominal","scale":{"domain":["blue","red","green","purple","orange","black","brown","gray","navy"],"range":["#0000ff","#ff0000","#00a000","#9b30e8","#ff8000","#000000","#996633","#808080","#1a1a8c"]},"legend":null}}}
]},
{"width":180,"height":120,"title":{"text":"PDX2-L858R","subtitle":"Osimertinib N=7","fontSize":19.5,"subtitlePadding":10},
"layer":[
{"data":{"values":[{"start":0,"end":35}]},"mark":{"type":"rect","color":"#d4d4d4"},"encoding":{"x":{"field":"start","type":"quantitative","scale":{"domain":[0,100],"nice":false},"axis":{"values":[0,20,40,60,80,100],"tickCount":20,"title":null,"labelOverlap":false,"format":"d"}},"x2":{"field":"end"},"y":{"datum":0,"type":"quantitative","scale":{"domain":[0,1600],"nice":false},"axis":{"values":[0,400,800,1200,1600],"tickCount":20,"title":null,"labelOverlap":false,"format":"d"}},"y2":{"datum":1600}}},
{"data":{"values":[{"start":0,"end":35}]},"mark":{"type":"rule","color":"black","strokeWidth":2},"encoding":{"x":{"field":"end","type":"quantitative"},"y":{"datum":0,"type":"quantitative"},"y2":{"datum":1600}}},
{"data":{"name":"B2"},"mark":{"type":"line","strokeWidth":2},"encoding":{"x":{"field":"day","type":"quantitative"},"y":{"field":"vol","type":"quantitative"},"color":{"field":"id","type":"nominal","scale":{"domain":["blue","red","green","purple","orange","black","brown","gray","navy"],"range":["#0000ff","#ff0000","#00a000","#9b30e8","#ff8000","#000000","#996633","#808080","#1a1a8c"]},"legend":null}}},
{"data":{"name":"B2"},"mark":{"type":"point","filled":true,"size":30,"strokeWidth":1.2,"opacity":1},"encoding":{"x":{"field":"day","type":"quantitative"},"y":{"field":"vol","type":"quantitative"},"shape":{"field":"id","type":"nominal","scale":{"domain":["blue","red","green","purple","orange","black","brown","gray","navy"],"range":["circle","square","triangle-up","triangle-down","diamond","circle","square","square","triangle-up"]},"legend":null},"fill":{"field":"id","type":"nominal","scale":{"domain":["blue","red","green","purple","orange","black","brown","gray","navy"],"range":["#0000ff","#ff0000","#00a000","#9b30e8","#ff8000","#ffffff","#ffffff","#808080","#ffffff"]},"legend":null},"stroke":{"field":"id","type":"nominal","scale":{"domain":["blue","red","green","purple","orange","black","brown","gray","navy"],"range":["#0000ff","#ff0000","#00a000","#9b30e8","#ff8000","#000000","#996633","#808080","#1a1a8c"]},"legend":null}}}
]},
{"width":180,"height":120,"title":{"text":"Cetuximab N=7"},
"layer":[
{"data":{"values":[{"start":0,"end":35}]},"mark":{"type":"rect","color":"#d4d4d4"},"encoding":{"x":{"field":"start","type":"quantitative","scale":{"domain":[0,100],"nice":false},"axis":{"values":[0,20,40,60,80,100],"tickCount":20,"title":null,"labelOverlap":false,"format":"d"}},"x2":{"field":"end"},"y":{"datum":0,"type":"quantitative","scale":{"domain":[0,1600],"nice":false},"axis":{"values":[0,400,800,1200,1600],"tickCount":20,"title":null,"labelOverlap":false,"format":"d"}},"y2":{"datum":1600}}},
{"data":{"values":[{"start":0,"end":35}]},"mark":{"type":"rule","color":"black","strokeWidth":2},"encoding":{"x":{"field":"end","type":"quantitative"},"y":{"datum":0,"type":"quantitative"},"y2":{"datum":1600}}},
{"data":{"name":"B3"},"mark":{"type":"line","strokeWidth":2},"encoding":{"x":{"field":"day","type":"quantitative"},"y":{"field":"vol","type":"quantitative"},"color":{"field":"id","type":"nominal","scale":{"domain":["blue","red","green","purple","orange","black","brown","gray","navy"],"range":["#0000ff","#ff0000","#00a000","#9b30e8","#ff8000","#000000","#996633","#808080","#1a1a8c"]},"legend":null}}},
{"data":{"name":"B3"},"mark":{"type":"point","filled":true,"size":30,"strokeWidth":1.2,"opacity":1},"encoding":{"x":{"field":"day","type":"quantitative"},"y":{"field":"vol","type":"quantitative"},"shape":{"field":"id","type":"nominal","scale":{"domain":["blue","red","green","purple","orange","black","brown","gray","navy"],"range":["circle","square","triangle-up","triangle-down","diamond","circle","square","square","triangle-up"]},"legend":null},"fill":{"field":"id","type":"nominal","scale":{"domain":["blue","red","green","purple","orange","black","brown","gray","navy"],"range":["#0000ff","#ff0000","#00a000","#9b30e8","#ff8000","#ffffff","#ffffff","#808080","#ffffff"]},"legend":null},"stroke":{"field":"id","type":"nominal","scale":{"domain":["blue","red","green","purple","orange","black","brown","gray","navy"],"range":["#0000ff","#ff0000","#00a000","#9b30e8","#ff8000","#000000","#996633","#808080","#1a1a8c"]},"legend":null}}}
]}
]},
{"title":{"text":"C","anchor":"start","frame":"group","dx":-39,"dy":20,"fontSize":21,"offset":0},
 "bounds":"flush","spacing":56,"resolve":{"scale":{"x":"independent","y":"independent"}},
 "hconcat":[
{"width":180,"height":120,"title":{"text":"Control N=4"},
"layer":[
{"data":{"values":[{"start":0,"end":21}]},"mark":{"type":"rect","color":"#d4d4d4"},"encoding":{"x":{"field":"start","type":"quantitative","scale":{"domain":[0,200],"nice":false},"axis":{"values":[0,50,100,150,200],"tickCount":20,"title":null,"labelOverlap":false,"format":"d"}},"x2":{"field":"end"},"y":{"datum":0,"type":"quantitative","scale":{"domain":[0,1200],"nice":false},"axis":{"values":[0,400,800,1200],"tickCount":20,"title":null,"labelOverlap":false,"format":"d"}},"y2":{"datum":1200}}},
{"data":{"values":[{"start":0,"end":21}]},"mark":{"type":"rule","color":"black","strokeWidth":2},"encoding":{"x":{"field":"end","type":"quantitative"},"y":{"datum":0,"type":"quantitative"},"y2":{"datum":1200}}},
{"data":{"name":"C1"},"mark":{"type":"line","strokeWidth":2},"encoding":{"x":{"field":"day","type":"quantitative"},"y":{"field":"vol","type":"quantitative"},"color":{"field":"id","type":"nominal","scale":{"domain":["blue","red","green","purple","orange","black","brown","gray","navy"],"range":["#0000ff","#ff0000","#00a000","#9b30e8","#ff8000","#000000","#996633","#808080","#1a1a8c"]},"legend":null}}},
{"data":{"name":"C1"},"mark":{"type":"point","filled":true,"size":30,"strokeWidth":1.2,"opacity":1},"encoding":{"x":{"field":"day","type":"quantitative"},"y":{"field":"vol","type":"quantitative"},"shape":{"field":"id","type":"nominal","scale":{"domain":["blue","red","green","purple","orange","black","brown","gray","navy"],"range":["circle","square","triangle-up","triangle-down","diamond","circle","square","square","triangle-up"]},"legend":null},"fill":{"field":"id","type":"nominal","scale":{"domain":["blue","red","green","purple","orange","black","brown","gray","navy"],"range":["#0000ff","#ff0000","#00a000","#9b30e8","#ff8000","#ffffff","#ffffff","#808080","#ffffff"]},"legend":null},"stroke":{"field":"id","type":"nominal","scale":{"domain":["blue","red","green","purple","orange","black","brown","gray","navy"],"range":["#0000ff","#ff0000","#00a000","#9b30e8","#ff8000","#000000","#996633","#808080","#1a1a8c"]},"legend":null}}}
]},
{"width":180,"height":120,"title":{"text":"PDX-Del19","subtitle":"Osimertinib N=4","fontSize":19.5,"subtitlePadding":15},
"layer":[
{"data":{"values":[{"start":0,"end":21}]},"mark":{"type":"rect","color":"#d4d4d4"},"encoding":{"x":{"field":"start","type":"quantitative","scale":{"domain":[0,200],"nice":false},"axis":{"values":[0,50,100,150,200],"tickCount":20,"title":"Time (days)","titleFontSize":21,"titlePadding":15,"labelOverlap":false,"format":"d"}},"x2":{"field":"end"},"y":{"datum":0,"type":"quantitative","scale":{"domain":[0,1200],"nice":false},"axis":{"values":[0,400,800,1200],"tickCount":20,"title":null,"labelOverlap":false,"format":"d"}},"y2":{"datum":1200}}},
{"data":{"values":[{"start":0,"end":21}]},"mark":{"type":"rule","color":"black","strokeWidth":2},"encoding":{"x":{"field":"end","type":"quantitative"},"y":{"datum":0,"type":"quantitative"},"y2":{"datum":1200}}},
{"data":{"name":"C2"},"mark":{"type":"line","strokeWidth":2},"encoding":{"x":{"field":"day","type":"quantitative"},"y":{"field":"vol","type":"quantitative"},"color":{"field":"id","type":"nominal","scale":{"domain":["blue","red","green","purple","orange","black","brown","gray","navy"],"range":["#0000ff","#ff0000","#00a000","#9b30e8","#ff8000","#000000","#996633","#808080","#1a1a8c"]},"legend":null}}},
{"data":{"name":"C2"},"mark":{"type":"point","filled":true,"size":30,"strokeWidth":1.2,"opacity":1},"encoding":{"x":{"field":"day","type":"quantitative"},"y":{"field":"vol","type":"quantitative"},"shape":{"field":"id","type":"nominal","scale":{"domain":["blue","red","green","purple","orange","black","brown","gray","navy"],"range":["circle","square","triangle-up","triangle-down","diamond","circle","square","square","triangle-up"]},"legend":null},"fill":{"field":"id","type":"nominal","scale":{"domain":["blue","red","green","purple","orange","black","brown","gray","navy"],"range":["#0000ff","#ff0000","#00a000","#9b30e8","#ff8000","#ffffff","#ffffff","#808080","#ffffff"]},"legend":null},"stroke":{"field":"id","type":"nominal","scale":{"domain":["blue","red","green","purple","orange","black","brown","gray","navy"],"range":["#0000ff","#ff0000","#00a000","#9b30e8","#ff8000","#000000","#996633","#808080","#1a1a8c"]},"legend":null}}}
]},
{"width":180,"height":120,"title":{"text":"Cetuximab N=5"},
"layer":[
{"data":{"values":[{"start":0,"end":21}]},"mark":{"type":"rect","color":"#d4d4d4"},"encoding":{"x":{"field":"start","type":"quantitative","scale":{"domain":[0,200],"nice":false},"axis":{"values":[0,50,100,150,200],"tickCount":20,"title":null,"labelOverlap":false,"format":"d"}},"x2":{"field":"end"},"y":{"datum":0,"type":"quantitative","scale":{"domain":[0,1200],"nice":false},"axis":{"values":[0,400,800,1200],"tickCount":20,"title":null,"labelOverlap":false,"format":"d"}},"y2":{"datum":1200}}},
{"data":{"values":[{"start":0,"end":21}]},"mark":{"type":"rule","color":"black","strokeWidth":2},"encoding":{"x":{"field":"end","type":"quantitative"},"y":{"datum":0,"type":"quantitative"},"y2":{"datum":1200}}},
{"data":{"name":"C3"},"mark":{"type":"line","strokeWidth":2},"encoding":{"x":{"field":"day","type":"quantitative"},"y":{"field":"vol","type":"quantitative"},"color":{"field":"id","type":"nominal","scale":{"domain":["blue","red","green","purple","orange","black","brown","gray","navy"],"range":["#0000ff","#ff0000","#00a000","#9b30e8","#ff8000","#000000","#996633","#808080","#1a1a8c"]},"legend":null}}},
{"data":{"name":"C3"},"mark":{"type":"point","filled":true,"size":30,"strokeWidth":1.2,"opacity":1},"encoding":{"x":{"field":"day","type":"quantitative"},"y":{"field":"vol","type":"quantitative"},"shape":{"field":"id","type":"nominal","scale":{"domain":["blue","red","green","purple","orange","black","brown","gray","navy"],"range":["circle","square","triangle-up","triangle-down","diamond","circle","square","square","triangle-up"]},"legend":null},"fill":{"field":"id","type":"nominal","scale":{"domain":["blue","red","green","purple","orange","black","brown","gray","navy"],"range":["#0000ff","#ff0000","#00a000","#9b30e8","#ff8000","#ffffff","#ffffff","#808080","#ffffff"]},"legend":null},"stroke":{"field":"id","type":"nominal","scale":{"domain":["blue","red","green","purple","orange","black","brown","gray","navy"],"range":["#0000ff","#ff0000","#00a000","#9b30e8","#ff8000","#000000","#996633","#808080","#1a1a8c"]},"legend":null}}}
]}
]}
],
"config":{
"view":{"stroke":null},
"axis":{"domainColor":"black","domainWidth":2,"tickColor":"black","tickWidth":2,"tickSize":6,"labelFont":"Liberation Sans","labelFontSize":14.5,"labelFontWeight":"bold","labelColor":"black","labelPadding":0,"grid":false,"labelFlush":false,"labelOverlap":false,"titleFont":"Liberation Sans","titleFontWeight":"bold","titleColor":"black"},
"title":{"font":"Liberation Sans","fontSize":19,"fontWeight":"bold","color":"black","subtitleFont":"Liberation Sans","subtitleFontSize":19,"subtitleFontWeight":"bold","subtitleColor":"black","offset":-3}
}
}
